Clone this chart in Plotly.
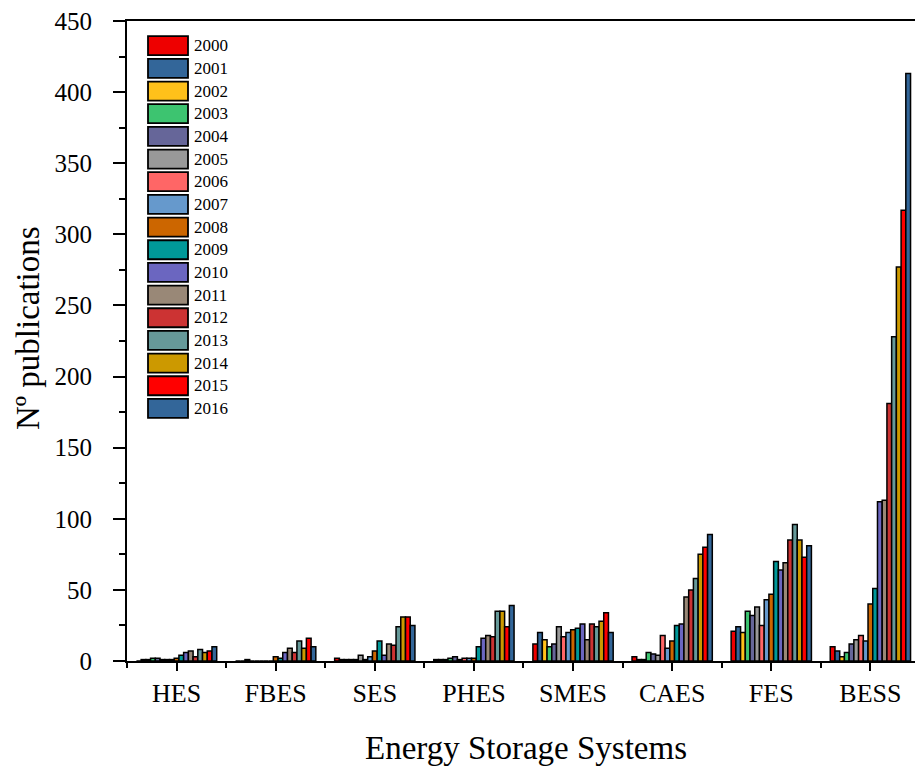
import plotly.graph_objects as go

# Publications per year for each energy storage technology
categories = ["HES", "FBES", "SES", "PHES", "SMES", "CAES", "FES", "BESS"]
years = [str(y) for y in range(2000, 2017)]

hes = [0, 1, 1, 2, 2, 1, 1, 1, 2, 4, 6, 7, 3, 8, 6, 7, 10]
fbes = [0, 0, 1, 0, 0, 0, 0, 0, 3, 2, 6, 9, 6, 14, 9, 16, 10]
ses = [2, 1, 1, 1, 1, 4, 1, 3, 7, 14, 4, 12, 11, 24, 31, 31, 25]
phes = [1, 1, 1, 2, 3, 1, 2, 2, 2, 10, 16, 18, 17, 35, 35, 24, 39]
smes = [12, 20, 15, 10, 12, 24, 17, 20, 22, 23, 26, 15, 26, 24, 28, 34, 20]
caes = [3, 1, 1, 6, 5, 4, 18, 9, 14, 25, 26, 45, 50, 58, 75, 80, 89]
fes = [21, 24, 20, 35, 32, 38, 25, 43, 47, 70, 64, 69, 85, 96, 85, 73, 81]
bess = [10, 7, 3, 6, 12, 15, 18, 14, 40, 51, 112, 113, 181, 228, 277, 317, 413]

year_colors = [
    "#EE0000", "#336699", "#FFC11A", "#3DC470", "#666699", "#999999",
    "#FF6666", "#6699CC", "#CC6600", "#009999", "#6B66C0", "#998877",
    "#CC3333", "#669999", "#CC9900", "#FF0000", "#336699",
]

y_ticks = list(range(0, 451, 50))

series_by_tech = [hes, fbes, ses, phes, smes, caes, fes, bess]

# Figure geometry (pixels)
W, H = 915, 767
ML, MR, MT, MB = 127, 0, 21, 106
PW, PH = W - ML - MR, H - MT - MB

SERIF = "Liberation Serif, Times New Roman, serif"

fig = go.Figure()
xpos = list(range(len(categories)))
for j, year in enumerate(years):
    fig.add_trace(go.Bar(
        x=xpos,
        y=[series[j] for series in series_by_tech],
        name=year,
        marker=dict(color=year_colors[j], line=dict(color="black", width=1.5)),
        showlegend=False,
    ))


def px_to_paper_x(px):
    return (px - ML) / PW


def px_to_paper_y(py):
    return (H - MB - py) / PH


# Legend drawn as large colour swatches with year labels
shapes = []
annotations = []
row0, row_step = 45.7, 22.67
for j, year in enumerate(years):
    cy = row0 + row_step * j
    shapes.append(dict(
        type="rect", xref="paper", yref="paper",
        x0=px_to_paper_x(148), x1=px_to_paper_x(188),
        y0=px_to_paper_y(cy + 9.5), y1=px_to_paper_y(cy - 9.5),
        fillcolor=year_colors[j], line=dict(color="black", width=1.8),
    ))
    annotations.append(dict(
        text=year, xref="paper", yref="paper",
        x=px_to_paper_x(192), y=px_to_paper_y(cy),
        xanchor="left", yanchor="middle", showarrow=False,
        font=dict(family=SERIF, size=17, color="black"),
    ))

annotations.append(dict(
    text="Nº publications", xref="paper", yref="paper",
    x=px_to_paper_x(28), y=px_to_paper_y(328),
    xanchor="center", yanchor="middle", textangle=-90, showarrow=False,
    font=dict(family=SERIF, size=33, color="black"),
))
annotations.append(dict(
    text="Energy Storage Systems", xref="paper", yref="paper",
    x=px_to_paper_x(526), y=px_to_paper_y(748),
    xanchor="center", yanchor="middle", showarrow=False,
    font=dict(family=SERIF, size=33, color="black"),
))

fig.update_layout(
    width=W, height=H,
    margin=dict(l=ML, r=MR, t=MT, b=MB, pad=0),
    paper_bgcolor="white", plot_bgcolor="white",
    barmode="group", bargap=0.19, bargroupgap=0,
    shapes=shapes, annotations=annotations,
    font=dict(family=SERIF, color="black"),
)

fig.update_xaxes(
    range=[-0.5, 7.45],
    tickmode="array", tickvals=xpos, ticktext=categories,
    ticks="outside", ticklen=8, tickwidth=2, tickcolor="black",
    minor=dict(tickmode="linear", tick0=0.5, dtick=1, ticks="outside",
               ticklen=5, tickwidth=2, tickcolor="black"),
    showline=True, linewidth=2, linecolor="black", mirror=True,
    showgrid=False, zeroline=False,
    tickfont=dict(family=SERIF, size=26, color="black"),
    ticklabelstandoff=0,
)

fig.update_yaxes(
    range=[0, 450],
    tickmode="array", tickvals=y_ticks,
    ticks="outside", ticklen=12, tickwidth=2, tickcolor="black",
    minor=dict(tickmode="linear", tick0=25, dtick=50, ticks="outside",
               ticklen=6, tickwidth=2, tickcolor="black"),
    showline=True, linewidth=2, linecolor="black", mirror=False,
    showgrid=False, zeroline=False,
    tickfont=dict(family=SERIF, size=25, color="black"),
    ticklabelstandoff=16,
)

fig.write_html("out.html")
